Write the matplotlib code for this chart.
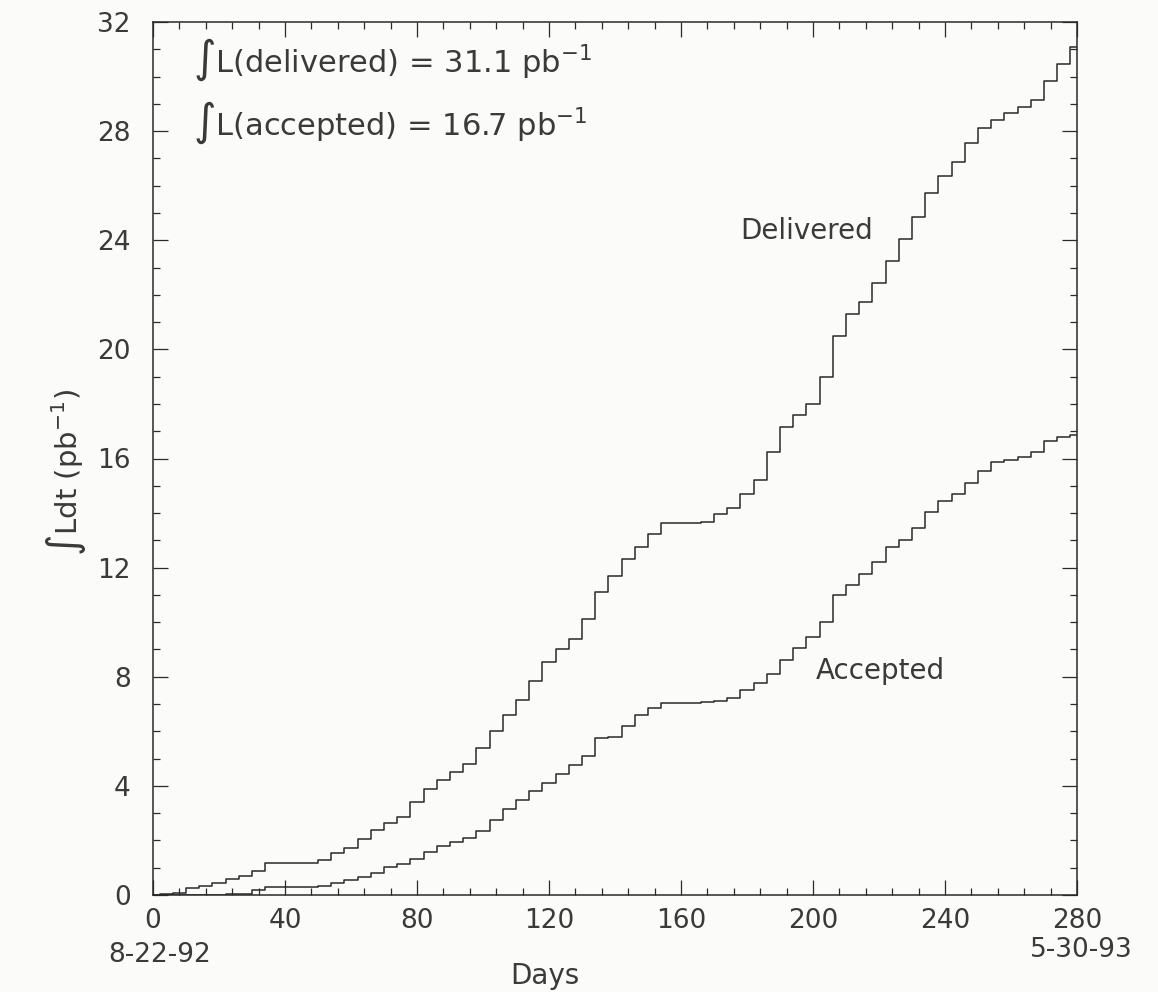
"""
Integrated luminosity vs. days, delivered and accepted (8-22-92 .. 5-30-93)
"""
import matplotlib
matplotlib.use("Agg")
import matplotlib.pyplot as plt
import matplotlib.ticker as mticker

plt.rcParams["font.family"] = ["DejaVu Sans"]
plt.rcParams["mathtext.fontset"] = "dejavusans"

# ── data (days since 8-22-92, pb^-1) ───────────────────────────────
days = [0, 4, 8, 12, 16, 20, 24, 28, 32, 36, 40, 44, 48, 52, 56, 60, 64, 68,
        72, 76, 80, 84, 88, 92, 96, 100, 104, 108, 112, 116, 120, 124, 128,
        132, 136, 140, 144, 148, 152, 156, 160, 164, 168, 172, 176, 180, 184,
        188, 192, 196, 200, 204, 208, 212, 216, 220, 224, 228, 232, 236, 240,
        244, 248, 252, 256, 260, 264, 268, 272, 276, 280]

delivered = [0.00, 0.02, 0.08, 0.25, 0.33, 0.45, 0.57, 0.70, 0.88, 1.16, 1.17,
             1.17, 1.18, 1.28, 1.55, 1.72, 2.05, 2.40, 2.65, 2.87, 3.40, 3.90,
             4.20, 4.50, 4.80, 5.40, 6.00, 6.60, 7.15, 7.85, 8.55, 9.00, 9.40,
             10.10, 11.10, 11.70, 12.30, 12.75, 13.25, 13.63, 13.63, 13.64,
             13.68, 13.98, 14.18, 14.70, 15.20, 16.25, 17.15, 17.58, 18.00,
             19.00, 20.50, 21.30, 21.75, 22.45, 23.25, 24.05, 24.85, 25.75,
             26.35, 26.85, 27.55, 28.10, 28.40, 28.65, 28.87, 29.15, 29.85,
             30.45, 31.10]

accepted = [0.00, 0.00, 0.00, 0.00, 0.00, 0.01, 0.02, 0.05, 0.18, 0.28, 0.30,
            0.30, 0.30, 0.34, 0.44, 0.55, 0.66, 0.82, 1.02, 1.15, 1.32, 1.58,
            1.78, 1.95, 2.10, 2.35, 2.75, 3.15, 3.48, 3.80, 4.12, 4.45, 4.75,
            5.10, 5.75, 5.80, 6.18, 6.58, 6.85, 7.04, 7.04, 7.05, 7.06, 7.10,
            7.22, 7.50, 7.78, 8.10, 8.60, 9.05, 9.45, 10.00, 11.00, 11.35,
            11.75, 12.20, 12.75, 13.00, 13.45, 14.05, 14.45, 14.70, 15.10,
            15.55, 15.87, 15.93, 16.05, 16.25, 16.65, 16.80, 16.85]

x_ticks = [0, 40, 80, 120, 160, 200, 240, 280]
y_ticks = [0, 4, 8, 12, 16, 20, 24, 28, 32]
total_delivered = 31.1
total_accepted = 16.7
start_date = "8-22-92"
end_date = "5-30-93"

# ── figure ─────────────────────────────────────────────────────────
INK = "#2a2a2a"
TXT = "#3a3a3a"
W, H = 1158, 992
fig = plt.figure(figsize=(W / 100, H / 100), dpi=100)
fig.patch.set_facecolor("#fbfbf9")
ax = fig.add_axes([153 / W, 1 - 895 / H, (1077 - 153) / W, (895 - 22) / H])
ax.set_facecolor("#fbfbf9")

ax.plot(days, delivered, drawstyle="steps-mid", color=INK, linewidth=1.1)
ax.plot(days, accepted, drawstyle="steps-mid", color=INK, linewidth=1.1)

ax.set_xlim(0, 280)
ax.set_ylim(0, 32)
ax.set_xticks(x_ticks)
ax.set_yticks(y_ticks)
ax.xaxis.set_minor_locator(mticker.MultipleLocator(8))
ax.yaxis.set_minor_locator(mticker.MultipleLocator(1))
ax.tick_params(which="both", direction="in", top=True, right=True,
               color=INK, width=0.9)
ax.tick_params(which="major", length=11, labelsize=19, labelcolor=TXT)
ax.tick_params(which="minor", length=5)
ax.tick_params(axis="x", which="major", pad=9)
ax.tick_params(axis="y", which="major", pad=16)
for sp in ax.spines.values():
    sp.set_color(INK)
    sp.set_linewidth(1.1)

# ── annotations ────────────────────────────────────────────────────
ax.text(12, 30.6, r"$\int$L(delivered) = %.1f pb$^{-1}$" % total_delivered,
        fontsize=22, color=TXT, ha="left", va="center")
ax.text(12, 28.3, r"$\int$L(accepted) = %.1f pb$^{-1}$" % total_accepted,
        fontsize=22, color=TXT, ha="left", va="center")
ax.text(198, 24.35, "Delivered", fontsize=20, color=TXT,
        ha="center", va="center")
ax.text(220.5, 8.2, "Accepted", fontsize=20, color=TXT,
        ha="center", va="center")

fig.text(65 / W, 1 - 472 / H, r"$\int$Ldt (pb$^{-1}$)", rotation=90,
         fontsize=21, color=TXT, ha="center", va="center")
fig.text(545 / W, 1 - 976 / H, "Days", fontsize=20, color=TXT,
         ha="center", va="center")
fig.text(160 / W, 1 - 955 / H, start_date, fontsize=19, color=TXT,
         ha="center", va="center")
fig.text(1081 / W, 1 - 950 / H, end_date, fontsize=19, color=TXT,
         ha="center", va="center")

fig.savefig("out.png", dpi=100, facecolor=fig.get_facecolor())
